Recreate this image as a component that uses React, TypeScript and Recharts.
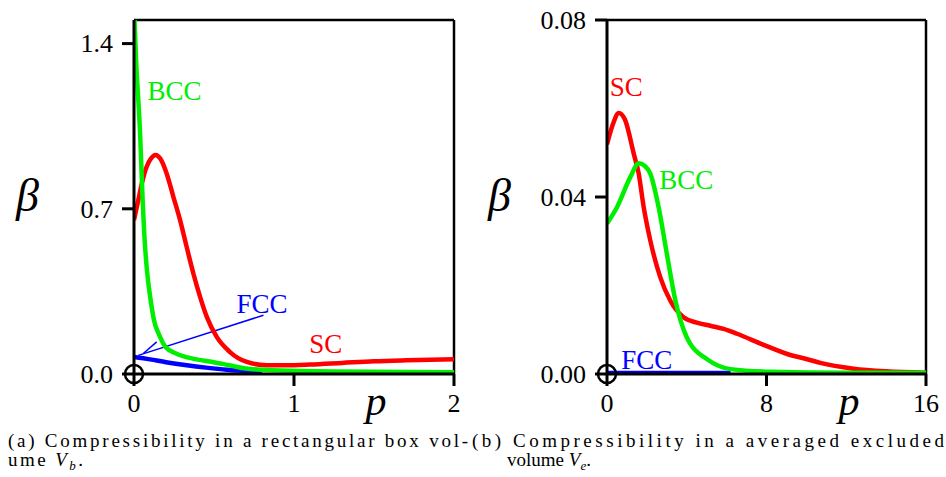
import React from 'react';
import { LineChart, Line, XAxis, YAxis, ReferenceLine, ReferenceDot } from 'recharts';

const FONT = 'Liberation Serif';
const RED = '#ff0000';
const GREEN = '#00ef00';
const BLUE = '#0000ff';

// ---------- Panel (a): rectangular box volume ----------
const aXTicks = [0, 1, 2];
const aYTicks = [0, 0.7, 1.4];

const aScP = [0, 0.027, 0.05, 0.079, 0.105, 0.135, 0.165, 0.204, 0.246, 0.288, 0.329, 0.371, 0.413, 0.455, 0.517, 0.6, 0.705, 0.83, 0.95, 1.1, 1.3, 1.5, 1.7, 2.0];
const aScB = [0.652, 0.737, 0.81, 0.878, 0.912, 0.928, 0.912, 0.85, 0.751, 0.652, 0.539, 0.426, 0.327, 0.242, 0.157, 0.093, 0.051, 0.037, 0.037, 0.04, 0.047, 0.054, 0.058, 0.062];

const aBccP = [0.003, 0.015, 0.027, 0.038, 0.046, 0.054, 0.064, 0.079, 0.104, 0.125, 0.158, 0.2, 0.263, 0.367, 0.492, 0.596, 0.7, 0.868, 1.25, 2.0];
const aBccB = [1.5, 1.3, 1.16, 1.02, 0.878, 0.737, 0.596, 0.454, 0.313, 0.228, 0.165, 0.112, 0.087, 0.065, 0.051, 0.037, 0.023, 0.016, 0.011, 0.007];

const aFccP = [0, 0.1, 0.2, 0.33, 0.45, 0.58, 0.7, 0.8];
const aFccB = [0.072, 0.062, 0.05, 0.037, 0.027, 0.018, 0.013, 0.012];
const aFccTailP = [0.7, 1.0, 1.4, 1.83];
const aFccTailB = [0.013, 0.012, 0.012, 0.012];

// arrow from the FCC label to the curve
const aArrowP = [0.809, 0.027];
const aArrowB = [0.249, 0.079];
const aArrowHeadP = [0.142, 0.058];
const aArrowHeadB = [0.136, 0.087];

const aLabels = [
  { text: 'BCC', p: 0.253, b: 1.2, color: GREEN },
  { text: 'FCC', p: 0.8, b: 0.296, color: BLUE },
  { text: 'SC', p: 1.198, b: 0.126, color: RED },
];

// ---------- Panel (b): averaged excluded volume ----------
const bXTicks = [0, 8, 16];
const bYTicks = [0, 0.04, 0.08];

const bScP = [0, 0.3, 0.59, 0.9, 1.34, 1.59, 1.84, 2.17, 2.67, 3.17, 3.84, 4.5, 5.18, 5.85, 6.52, 7.85, 9.19, 10.0, 10.7, 12.37, 14, 16];
const bScB = [0.0519, 0.0565, 0.059, 0.0575, 0.0498, 0.0453, 0.0377, 0.0302, 0.0219, 0.0166, 0.0128, 0.0116, 0.0109, 0.0102, 0.0091, 0.0066, 0.0043, 0.0034, 0.0025, 0.0012, 0.0006, 0.0003];

const bBccP = [0, 0.5, 1.17, 1.59, 1.9, 2.17, 2.59, 3.0, 3.43, 4.0, 4.18, 5.0, 6.2, 8.2, 12, 16];
const bBccB = [0.034, 0.0377, 0.0445, 0.0476, 0.047, 0.0453, 0.0377, 0.0272, 0.0166, 0.0083, 0.0068, 0.0034, 0.0011, 0.0005, 0.0003, 0.0003];

const bFccP = [0, 6.2];
const bFccB = [0.0004, 0.0004];

const bLabels = [
  { text: 'SC', p: 0.97, b: 0.0648, color: RED },
  { text: 'BCC', p: 3.98, b: 0.0438, color: GREEN },
  { text: 'FCC', p: 2.0, b: 0.0032, color: BLUE },
];

const pts = (xs: number[], ys: number[]) => xs.map((x, i) => ({ x, y: ys[i] }));

const axisStyle = { stroke: '#000', strokeWidth: 3 };
const TICK_FS = 26;

const XTick = (props: any) => (
  <text x={props.x} y={props.y} dy="0.71em" textAnchor="middle" fontSize={TICK_FS} fill="#000" style={{ fontFamily: FONT }}>
    {props.payload.value}
  </text>
);

const makeYTick = (digits: number) => (props: any) => (
  <text x={props.x} y={props.y} dy="0.34em" textAnchor="end" fontSize={TICK_FS} fill="#000" style={{ fontFamily: FONT }}>
    {Number(props.payload.value).toFixed(digits)}
  </text>
);

const PLabel = (props: any) => {
  const vb = props.viewBox || {};
  return (
    <text x={vb.x + 242} y={vb.y + 41} textAnchor="middle" fontSize={42} fontStyle="italic" fill="#000" style={{ fontFamily: FONT }}>
      p
    </text>
  );
};

const makeBetaLabel = (offset: number) => (props: any) => {
  const vb = props.viewBox || {};
  return (
    <text x={vb.x + offset} y={vb.y + vb.height / 2 + 14} textAnchor="start" fontSize={46} fontStyle="italic" fill="#000" style={{ fontFamily: FONT }}>
      β
    </text>
  );
};

const makeTextShape = (text: string, color: string) => (props: any) => (
  <text x={props.cx} y={props.cy} dy="0.34em" textAnchor="middle" fontSize={27} fill={color} style={{ fontFamily: FONT }}>
    {text}
  </text>
);

type Series = { data: { x: number; y: number }[]; color: string; width: number };

function Panel(props: {
  width: number;
  yAxisWidth: number;
  marginRight: number;
  xDomain: [number, number];
  yDomain: [number, number];
  xTicks: number[];
  yTicks: number[];
  yDigits: number;
  betaOffset: number;
  series: Series[];
  segments: { x1: number; y1: number; x2: number; y2: number; color: string }[];
  labels: { text: string; p: number; b: number; color: string }[];
}) {
  const { xDomain, yDomain } = props;
  const BetaLabel = makeBetaLabel(props.betaOffset);
  return (
    <LineChart width={props.width} height={430} margin={{ top: 20, right: props.marginRight, bottom: 16, left: 0 }}>
      <XAxis
        dataKey="x"
        type="number"
        domain={xDomain}
        ticks={props.xTicks}
        interval={0}
        allowDataOverflow
        height={40}
        axisLine={axisStyle}
        tickLine={axisStyle}
        tickSize={12}
        tickMargin={8}
        tick={<XTick />}
        label={{ content: <PLabel /> }}
      />
      <YAxis
        type="number"
        domain={yDomain}
        ticks={props.yTicks}
        interval={0}
        allowDataOverflow
        width={props.yAxisWidth}
        axisLine={axisStyle}
        tickLine={axisStyle}
        tickSize={12}
        tickMargin={9}
        tick={makeYTick(props.yDigits)}
        label={{ content: <BetaLabel /> }}
      />
      <ReferenceLine y={yDomain[1]} stroke="#000" strokeWidth={2.5} />
      <ReferenceLine x={xDomain[1]} stroke="#000" strokeWidth={2.5} />
      {props.segments.map((s, i) => (
        <ReferenceLine
          key={'seg' + i}
          segment={[{ x: s.x1, y: s.y1 }, { x: s.x2, y: s.y2 }]}
          stroke={s.color}
          strokeWidth={1.5}
        />
      ))}
      {props.series.map((s, i) => (
        <Line
          key={'s' + i}
          data={s.data}
          dataKey="y"
          type="monotone"
          stroke={s.color}
          strokeWidth={s.width}
          dot={false}
          activeDot={false}
          isAnimationActive={false}
        />
      ))}
      {props.labels.map((l) => (
        <ReferenceDot key={l.text} x={l.p} y={l.b} r={1} shape={makeTextShape(l.text, l.color)} />
      ))}
      <ReferenceDot x={0} y={0} r={9} fill="none" stroke="#000" strokeWidth={2.5} />
    </LineChart>
  );
}

const capStyle = { fontFamily: FONT };

export default function App() {
  return (
    <div style={{ position: 'absolute', left: 0, top: 0, width: 946, height: 477, background: '#fff', overflow: 'hidden' }}>
      <div style={{ position: 'absolute', left: 0, top: 0 }}>
        <Panel
          width={470}
          yAxisWidth={134}
          marginRight={16}
          xDomain={[0, 2]}
          yDomain={[0, 1.5]}
          xTicks={aXTicks}
          yTicks={aYTicks}
          yDigits={1}
          betaOffset={16}
          series={[
            { data: pts(aFccTailP, aFccTailB), color: BLUE, width: 1.5 },
            { data: pts(aFccP, aFccB), color: BLUE, width: 4.5 },
            { data: pts(aScP, aScB), color: RED, width: 4.5 },
            { data: pts(aBccP, aBccB), color: GREEN, width: 4.5 },
          ]}
          segments={[
            { x1: aArrowP[0], y1: aArrowB[0], x2: aArrowP[1], y2: aArrowB[1], color: BLUE },
            { x1: aArrowHeadP[0], y1: aArrowHeadB[0], x2: aArrowHeadP[1], y2: aArrowHeadB[1], color: BLUE },
          ]}
          labels={aLabels}
        />
      </div>
      <div style={{ position: 'absolute', left: 470, top: 0 }}>
        <Panel
          width={476}
          yAxisWidth={137}
          marginRight={20}
          xDomain={[0, 16]}
          yDomain={[0, 0.08]}
          xTicks={bXTicks}
          yTicks={bYTicks}
          yDigits={2}
          betaOffset={18}
          series={[
            { data: pts(bFccP, bFccB), color: BLUE, width: 3 },
            { data: pts(bScP, bScB), color: RED, width: 4.5 },
            { data: pts(bBccP, bBccB), color: GREEN, width: 4.5 },
          ]}
          segments={[]}
          labels={bLabels}
        />
      </div>
      <svg width={946} height={477} style={{ position: 'absolute', left: 0, top: 0, pointerEvents: 'none' }}>
        <text x={8} y={446.5} fontSize={19} fill="#000" style={capStyle} textLength={460} lengthAdjust="spacing">
          (a) Compressibility in a rectangular box vol-
        </text>
        <text x={8} y={465.5} fontSize={19} fill="#000" style={capStyle} textLength={75} lengthAdjust="spacing">
          ume <tspan fontStyle="italic">V</tspan>
          <tspan fontStyle="italic" fontSize={13} dy={4}>b</tspan>
          <tspan dy={-4}>.</tspan>
        </text>
        <text x={472} y={446.5} fontSize={19} fill="#000" style={capStyle} textLength={472} lengthAdjust="spacing">
          (b) Compressibility in a averaged excluded
        </text>
        <text x={507} y={465.5} fontSize={19} fill="#000" style={capStyle} textLength={84} lengthAdjust="spacing">
          volume <tspan fontStyle="italic">V</tspan>
          <tspan fontStyle="italic" fontSize={13} dy={4}>e</tspan>
          <tspan dy={-4}>.</tspan>
        </text>
      </svg>
    </div>
  );
}
